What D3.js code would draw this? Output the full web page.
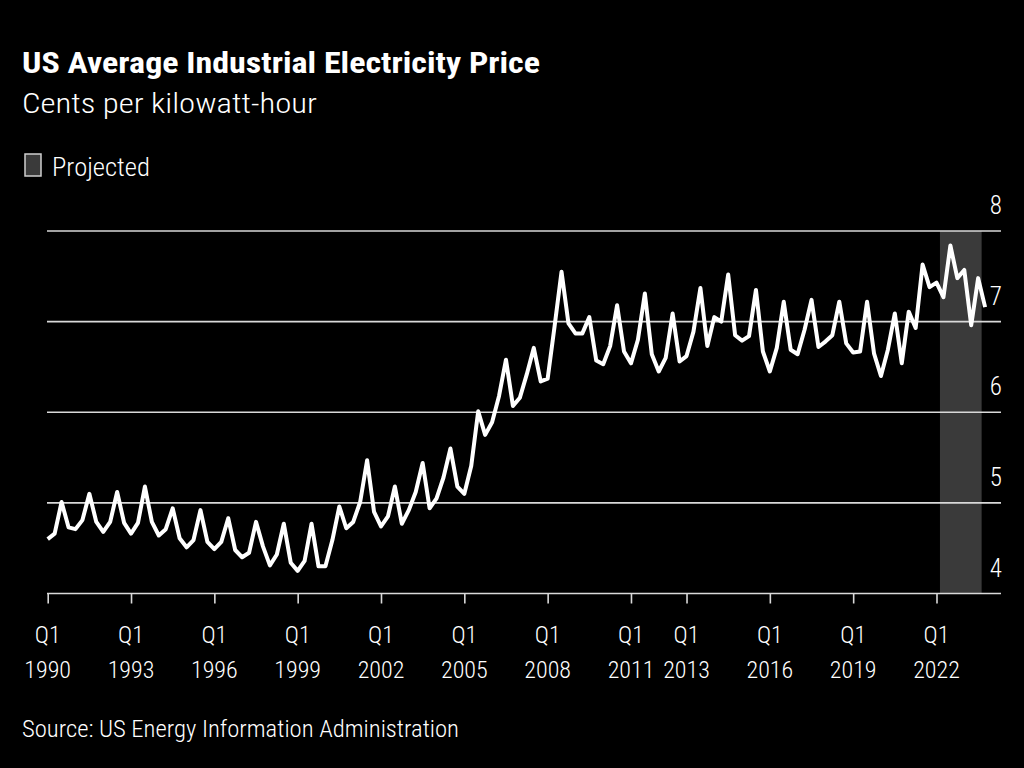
<!DOCTYPE html>
<html><head><meta charset="utf-8">
<script src="https://cdn.jsdelivr.net/npm/d3@7/dist/d3.min.js"></script>
<style>
html,body{margin:0;padding:0;background:#000;}
svg{display:block;}
text{font-family:'Liberation Sans Narrow','Roboto Condensed','Arial Narrow',Roboto,sans-serif;fill:#fff;font-weight:300;}
</style></head>
<body>
<svg id="chart" width="1024" height="768"></svg>
<script>
// Quarterly series, Q1 1990 .. Q4 2023 (cents per kWh)
const startYear = 1990;
const prices = [
4.60,4.66,5.01,4.73, 4.71,4.81,5.10,4.79, 4.68,4.79,5.12,4.78, 4.66,4.78,5.18,4.79,
4.64,4.71,4.94,4.61, 4.51,4.59,4.92,4.57, 4.49,4.57,4.83,4.48, 4.40,4.45,4.79,4.52,
4.31,4.43,4.77,4.34, 4.25,4.36,4.77,4.30, 4.30,4.59,4.96,4.72, 4.79,5.01,5.47,4.90,
4.74,4.85,5.18,4.77, 4.92,5.12,5.44,4.94, 5.05,5.28,5.60,5.18, 5.10,5.41,6.01,5.75,
5.89,6.18,6.58,6.07, 6.16,6.42,6.71,6.34, 6.37,6.95,7.55,6.98, 6.87,6.87,7.05,6.57,
6.53,6.73,7.18,6.67, 6.54,6.80,7.31,6.64, 6.45,6.60,7.09,6.56, 6.62,6.89,7.37,6.73,
7.05,7.00,7.52,6.85, 6.79,6.84,7.35,6.67, 6.45,6.71,7.22,6.69, 6.64,6.91,7.24,6.72,
6.78,6.85,7.22,6.76, 6.66,6.67,7.22,6.65, 6.40,6.69,7.09,6.54, 7.11,6.93,7.63,7.38,
7.43,7.27,7.84,7.48, 7.57,6.96,7.48,7.16
];
const quarters = prices.map((_, i) => "Q" + (i % 4 + 1) + " " + (startYear + Math.floor(i / 4)));
const tickYears = [1990, 1993, 1996, 1999, 2002, 2005, 2008, 2011, 2013, 2016, 2019, 2022];
const yTicks = [4, 5, 6, 7, 8];
const projectedStart = "Q2 2022";
const projectedEnd = "Q3 2023";

const svg = d3.select("#chart");
const idx = q => quarters.indexOf(q);

const x = d3.scaleLinear().domain([0, prices.length - 1]).range([47.7, 985.1]);
const y = d3.scaleLinear().domain([4, 8]).range([593.5, 231]);
const step = x(1) - x(0);
const gridL = 47, gridR = 1001;

// projected band
svg.append("rect")
  .attr("x", x(idx(projectedStart)) - step / 2)
  .attr("y", y(8))
  .attr("width", x(idx(projectedEnd)) - x(idx(projectedStart)) + step)
  .attr("height", y(4) - y(8))
  .attr("fill", "#3a3a3a");

// gridlines
svg.append("g").selectAll("line").data(yTicks.filter(v => v > 4)).join("line")
  .attr("x1", gridL).attr("x2", gridR)
  .attr("y1", d => y(d)).attr("y2", d => y(d))
  .attr("stroke", "#d9d9d9").attr("stroke-width", 1.6);

// y labels
svg.append("g").selectAll("text").data(yTicks).join("text")
  .attr("x", 1002).attr("y", d => y(d) - 17)
  .attr("text-anchor", "end").attr("font-size", 25)
  .text(d => d);

// x axis
const xAxis = d3.axisBottom(x)
  .tickValues(tickYears.map(yr => idx("Q1 " + yr)))
  .tickSize(10).tickFormat("");
const gx = svg.append("g").attr("transform", `translate(0,${y(4)})`).call(xAxis);
gx.select(".domain").remove();
gx.selectAll(".tick line").attr("stroke", "#d9d9d9").attr("stroke-width", 1.6);
svg.append("line").attr("x1", gridL).attr("x2", gridR)
  .attr("y1", y(4)).attr("y2", y(4))
  .attr("stroke", "#d9d9d9").attr("stroke-width", 1.6);

const tl = svg.append("g").selectAll("g").data(tickYears).join("g")
  .attr("transform", d => `translate(${x(idx("Q1 " + d))},0)`);
tl.append("text").attr("y", 643).attr("text-anchor", "middle").attr("font-size", 24).text("Q1");
tl.append("text").attr("y", 678).attr("text-anchor", "middle").attr("font-size", 24).text(d => d);

// line
const line = d3.line().x((d, i) => x(i)).y(d => y(d));
svg.append("path").datum(prices)
  .attr("d", line).attr("fill", "none")
  .attr("stroke", "#fff").attr("stroke-width", 4)
  .attr("stroke-linejoin", "round");

// titles
svg.append("text").attr("x", 22).attr("y", 73).attr("font-size", 29).style("font-weight", "bold")
  .attr("textLength", 518).attr("lengthAdjust", "spacingAndGlyphs")
  .text("US Average Industrial Electricity Price");
svg.append("text").attr("x", 22).attr("y", 113).attr("font-size", 27)
  .attr("textLength", 295).attr("lengthAdjust", "spacingAndGlyphs")
  .text("Cents per kilowatt-hour");

// legend
svg.append("rect").attr("x", 25).attr("y", 154).attr("width", 16).attr("height", 22)
  .attr("fill", "#3a3a3a").attr("stroke", "#cfcfcf").attr("stroke-width", 1.5);
svg.append("text").attr("x", 52).attr("y", 176).attr("font-size", 25)
  .attr("textLength", 98).attr("lengthAdjust", "spacingAndGlyphs")
  .text("Projected");

// source
svg.append("text").attr("x", 22).attr("y", 737).attr("font-size", 24)
  .attr("textLength", 437).attr("lengthAdjust", "spacingAndGlyphs")
  .text("Source: US Energy Information Administration");
</script>
</body></html>
